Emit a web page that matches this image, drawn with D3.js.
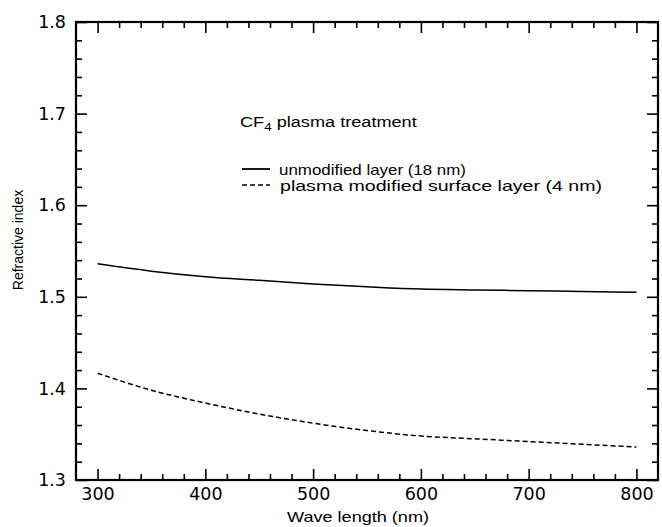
<!DOCTYPE html>
<html>
<head>
<meta charset="utf-8">
<script src="https://cdn.jsdelivr.net/npm/d3@7"></script>
<style>
  html, body { margin: 0; padding: 0; background: #fff; }
  svg { display: block; }
</style>
</head>
<body>
<svg id="chart" width="662" height="527"></svg>
<script>
// ---- data ----
const wavelengths = [300, 350, 400, 450, 500, 550, 600, 650, 700, 750, 800];
const unmodified  = [1.536, 1.528, 1.522, 1.518, 1.514, 1.511, 1.5085, 1.5075, 1.5067, 1.5058, 1.505];
const plasmaMod   = [1.4165, 1.398, 1.384, 1.372, 1.362, 1.354, 1.348, 1.345, 1.342, 1.339, 1.336];
const xTickLabels = [300, 400, 500, 600, 700, 800];
const yTickLabels = [1.3, 1.4, 1.5, 1.6, 1.7, 1.8];
const seriesNames = ["unmodified layer (18 nm)", "plasma modified surface layer (4 nm)"];

const svg = d3.select("#chart");
const x = d3.scaleLinear().domain([280, 820]).range([76, 658]);
const y = d3.scaleLinear().domain([1.3, 1.8]).range([480, 22]);

const xMinor = d3.range(300, 801, 20).filter(v => v % 100 !== 0);
const yMinor = d3.range(1.32, 1.8, 0.02).filter(v => Math.abs(v * 10 - Math.round(v * 10)) > 1e-6);

const g = svg.append("g");
const FONT = "Liberation Sans, Arial, sans-serif";

function styleAxis(sel) {
  sel.select(".domain").remove();
  sel.selectAll(".tick line").attr("stroke", "#000").attr("stroke-width", 1.6);
}

// bottom
g.append("g").attr("transform", "translate(0,480)")
  .call(d3.axisBottom(x).tickValues(xMinor).tickSize(-6).tickFormat(""))
  .call(styleAxis);
const bx = g.append("g").attr("transform", "translate(0,480)")
  .call(d3.axisBottom(x).tickValues(xTickLabels).tickSize(-11).tickPadding(8).tickFormat(d3.format("d")))
  .call(styleAxis);
bx.selectAll("text").attr("font-family", "DejaVu Sans").attr("font-size", 17.5).attr("fill", "#000");

// top
g.append("g").attr("transform", "translate(0,22)")
  .call(d3.axisTop(x).tickValues(xMinor).tickSize(-6).tickFormat(""))
  .call(styleAxis);
g.append("g").attr("transform", "translate(0,22)")
  .call(d3.axisTop(x).tickValues(xTickLabels).tickSize(-11).tickFormat(""))
  .call(styleAxis);

// left
g.append("g").attr("transform", "translate(76,0)")
  .call(d3.axisLeft(y).tickValues(yMinor).tickSize(-6).tickFormat(""))
  .call(styleAxis);
const ly = g.append("g").attr("transform", "translate(76,0)")
  .call(d3.axisLeft(y).tickValues(yTickLabels).tickSize(-11).tickPadding(10).tickFormat(d3.format(".1f")))
  .call(styleAxis);
ly.selectAll("text").attr("font-family", "DejaVu Sans").attr("font-size", 17.5).attr("fill", "#000");

// right
g.append("g").attr("transform", "translate(658,0)")
  .call(d3.axisRight(y).tickValues(yMinor).tickSize(-6).tickFormat(""))
  .call(styleAxis);
g.append("g").attr("transform", "translate(658,0)")
  .call(d3.axisRight(y).tickValues(yTickLabels).tickSize(-11).tickFormat(""))
  .call(styleAxis);

// frame
svg.append("rect").attr("x", 76).attr("y", 22).attr("width", 582).attr("height", 458)
  .attr("fill", "none").attr("stroke", "#000").attr("stroke-width", 2.2);

// lines
const line = d3.line().x(d => x(d[0])).y(d => y(d[1])).curve(d3.curveMonotoneX);
svg.append("path").datum(wavelengths.map((w, i) => [w, unmodified[i]]))
  .attr("d", line).attr("fill", "none").attr("stroke", "#000").attr("stroke-width", 1.5);
svg.append("path").datum(wavelengths.map((w, i) => [w, plasmaMod[i]]))
  .attr("d", line).attr("fill", "none").attr("stroke", "#000").attr("stroke-width", 1.5)
  .attr("stroke-dasharray", "5,3");

// title annotation (horizontally stretched Helvetica-like text)
const t = svg.append("text")
  .attr("transform", "translate(240,126.5) scale(1.17,1)")
  .attr("font-family", FONT).attr("font-size", 15.5).attr("fill", "#000");
t.append("tspan").text("CF");
t.append("tspan").attr("font-size", 11.5).attr("dy", 4).text("4");
t.append("tspan").attr("dy", -4).text(" plasma treatment");

// legend
svg.append("line").attr("x1", 242).attr("x2", 270).attr("y1", 169).attr("y2", 169)
  .attr("stroke", "#000").attr("stroke-width", 1.8);
svg.append("line").attr("x1", 242).attr("x2", 270).attr("y1", 185).attr("y2", 185)
  .attr("stroke", "#000").attr("stroke-width", 1.5).attr("stroke-dasharray", "5,3");
svg.append("text").attr("x", 279).attr("y", 174.5)
  .attr("font-family", FONT).attr("font-size", 14.5).attr("fill", "#000")
  .attr("textLength", 187).attr("lengthAdjust", "spacingAndGlyphs").text(seriesNames[0]);
svg.append("text").attr("x", 280).attr("y", 190.5)
  .attr("font-family", FONT).attr("font-size", 14.5).attr("fill", "#000")
  .attr("textLength", 322).attr("lengthAdjust", "spacingAndGlyphs").text(seriesNames[1]);

// axis titles
svg.append("text").attr("x", 287).attr("y", 522)
  .attr("font-family", FONT).attr("font-size", 14.5).attr("fill", "#000")
  .attr("textLength", 142).attr("lengthAdjust", "spacingAndGlyphs").text("Wave length (nm)");
svg.append("text").attr("transform", "translate(23,240) rotate(-90)")
  .attr("text-anchor", "middle").attr("font-family", FONT)
  .attr("font-size", 14).attr("fill", "#000").text("Refractive index");
</script>
</body>
</html>
